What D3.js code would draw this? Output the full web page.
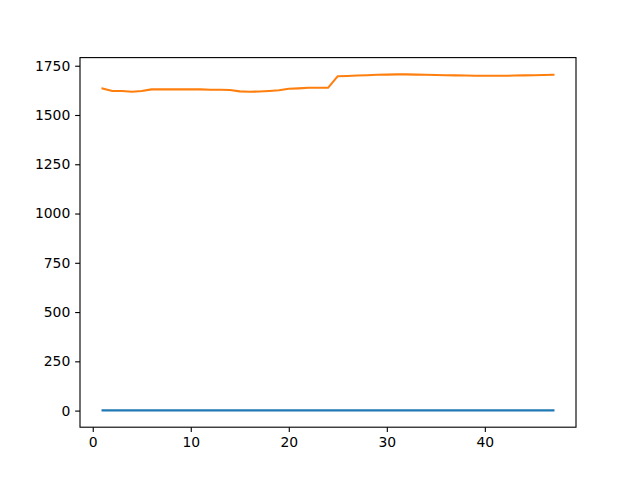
<!DOCTYPE html>
<html><head><meta charset="utf-8">
<script src="https://cdn.jsdelivr.net/npm/d3@7"></script>
<style>body{margin:0;background:#fff}svg{display:block}</style>
</head><body>
<script>
const xs = d3.range(1, 48);
const series0 = xs.map(() => 1);
const series1 = [1635,1622,1622,1618,1622,1630,1630,1630,1630,1630,1630,1628,1628,1627,1620,1618,1619,1622,1626,1633,1635,1638,1638,1638,1697,1698,1700,1702,1704,1705,1706,1706,1705,1704,1703,1702,1701,1700,1699,1699,1699,1699,1700,1701,1702,1703,1704];
const xTicks = [0,10,20,30,40];
const yTicks = [0,250,500,750,1000,1250,1500,1750];
const colors = ["#1f77b4","#ff7f0e"];

const W=640,H=480, L=80, R=576, T=57.6, B=427.2;
const svg = d3.select("body").append("svg").attr("width",W).attr("height",H);
const xmin=1,xmax=47, xm=(xmax-xmin)*0.05;
const allY = series0.concat(series1);
const ymin=d3.min(allY), ymax=d3.max(allY), ym=(ymax-ymin)*0.05;
const x = d3.scaleLinear().domain([xmin-xm,xmax+xm]).range([L,R]);
const y = d3.scaleLinear().domain([ymin-ym,ymax+ym]).range([B,T]);

const line = d3.line().x((d,i)=>x(xs[i])).y(d=>y(d));
[series0,series1].forEach((s,k)=>{
  svg.append("path").datum(s).attr("d",line).attr("fill","none")
    .attr("stroke",colors[k]).attr("stroke-width",2.08).attr("stroke-linejoin","round").attr("stroke-linecap","square");
});

const font = "DejaVu Sans";
const xa = svg.append("g").attr("transform",`translate(0,${B})`)
  .call(d3.axisBottom(x).tickValues(xTicks).tickSize(4.86).tickPadding(4.86).tickFormat(d3.format("d")));
const ya = svg.append("g").attr("transform",`translate(${L},0)`)
  .call(d3.axisLeft(y).tickValues(yTicks).tickSize(4.86).tickPadding(4.86).tickFormat(d3.format("d")));
[xa,ya].forEach(a=>{
  a.select(".domain").remove();
  a.selectAll("line").attr("stroke","#000").attr("stroke-width",1.11);
  a.selectAll("text").attr("font-family",font).attr("font-size",13.9).attr("fill","#000");
});
svg.append("rect").attr("x",L).attr("y",T).attr("width",R-L).attr("height",B-T)
  .attr("fill","none").attr("stroke","#000").attr("stroke-width",1.11);
</script>
</body></html>
